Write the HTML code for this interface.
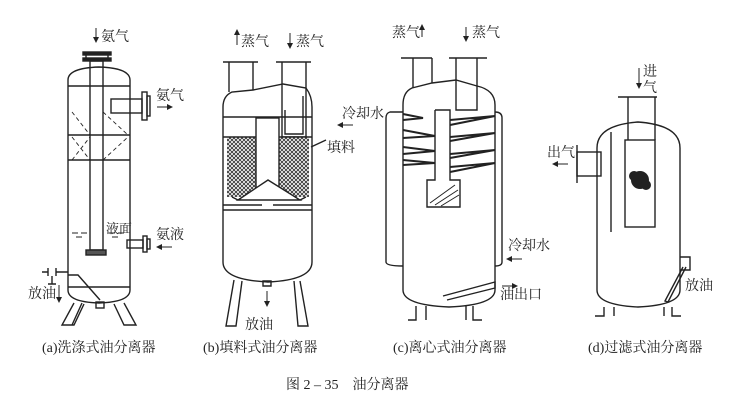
<!DOCTYPE html>
<html><head><meta charset="utf-8"><style>
html,body{margin:0;padding:0;background:#fff;}
svg{display:block}
text{font-family:"Liberation Serif","Noto Serif CJK SC",serif;fill:#222;}
</style></head><body>
<svg width="741" height="415" viewBox="0 0 741 415" xmlns="http://www.w3.org/2000/svg">
<defs>
<pattern id="hatch" width="4" height="4" patternUnits="userSpaceOnUse">
<rect width="4" height="4" fill="#fff"/>
<path d="M0 0L4 4M4 0L0 4" stroke="#333" stroke-width="0.9"/>
</pattern>
<marker id="ah" markerWidth="6" markerHeight="6" refX="5" refY="3" orient="auto"><path d="M0 0L6 3L0 6z" fill="#222"/></marker>
</defs>
<g fill="none" stroke="#222" stroke-width="1.4">
<!-- (a) -->
<path d="M68 290 L68 80 Q68 68 99 67 Q130 68 130 80 L130 290 Q130 302 99 303 Q68 302 68 290Z"/>
<rect x="83" y="52" width="28" height="3" fill="#222"/>
<rect x="83" y="58" width="28" height="3" fill="#222"/>
<path d="M86 55 L86 58 M108 55 L108 58"/>
<rect x="90" y="61" width="13" height="189"/>
<rect x="86" y="250" width="20" height="5" fill="#555"/>
<path d="M68 86 H130 M68 135 H130 M68 160 H130 M68 287 H130"/>
<path d="M72 112 L90 135 M72 160 L90 137 M103 112 L128 135 M103 160 L128 137 M72 137 L90 160" stroke-dasharray="4 3" stroke-width="0.9"/>
<rect x="111" y="99" width="31" height="14"/>
<rect x="142" y="92" width="5" height="28"/><rect x="147" y="96" width="3" height="20"/>
<path d="M72 233 h6 m3 0 h6 m22 0 h6 m3 0 h6 M76 237 h6 m30 0 h6" stroke-width="0.9"/>
<rect x="127" y="240" width="16" height="8"/>
<rect x="143" y="236" width="4" height="16"/><rect x="147" y="239" width="3" height="10"/>
<path d="M68 272 H56 M56 268 v8 M48 268 v8 M42 272 h6 M52 276 v8 M48 284 h8 M68 275 h10 L100 300"/>
<path d="M74 303 L62 325 H74 L84 304 M82 303 L72 325 M124 303 L136 325 H124 L114 304"/>
<rect x="96" y="302" width="8" height="6"/>
<path d="M59 285 V302" marker-end="url(#ah)" stroke-width="1"/>
<path d="M96 28 V42" marker-end="url(#ah)" stroke-width="1"/>
<path d="M157 107 H172" marker-end="url(#ah)" stroke-width="1"/>
<path d="M172 247 H157" marker-end="url(#ah)" stroke-width="1"/>
<!-- (b) -->
<path d="M223 107 Q223 96 232 92 L253 90 L283 84 L306 88 Q312 96 312 107 L312 262 Q312 280 268 282 Q223 280 223 262Z"/>
<path d="M223 62 H258 M276 62 H311"/>
<path d="M229 62 V92 M253 62 V90"/>
<path d="M282 62 V137 H306 V62 M285 110 V134 H303 V96"/>
<path d="M223 117 H312"/>
<rect x="227" y="137" width="29" height="60" fill="url(#hatch)" stroke="none"/>
<rect x="279" y="137" width="30" height="60" fill="url(#hatch)" stroke="none"/>
<path d="M223 137 H256 M279 137 H312"/>
<rect x="256" y="118" width="23" height="72" fill="#fff"/>
<path d="M238 200 L268 180 L300 200Z M238 200 L232 197 M300 200 L306 197" fill="#fff"/>
<path d="M223 205 H262 M273 205 H312 M223 210 H312"/>
<path d="M234 280 L226 326 H236 L242 281 M300 281 L308 326 H298 L294 281 M263 281 h8 v5 h-8z"/>
<path d="M311 147 L326 140"/>
<path d="M237 45 V30" marker-end="url(#ah)" stroke-width="1"/>
<path d="M290 33 V48" marker-end="url(#ah)" stroke-width="1"/>
<path d="M267 291 V306" marker-end="url(#ah)" stroke-width="1"/>
<!-- (c) -->
<path d="M403 105 Q403 92 412 88 L432 83 L456 80 L477 86 Q495 90 495 105 L495 290 Q495 305 449 307 Q403 305 403 290Z"/>
<path d="M401 58 H432 M449 58 H487"/>
<path d="M413 58 V88 M432 58 V83 M456 58 V110 H477 V58"/>
<path d="M403 112 H390 Q386 113 386 118 V262 Q386 266 403 266 M495 112 Q502 112 502 118 V262 Q502 266 495 266"/>
<path d="M403 114 L423 118 L403 120 M450 120 L495 116 L450 125 M403 130 L435 136 L403 138 M450 137 L495 133 L450 141 M403 147 L435 151 L403 154 M450 154 L495 150 L450 158 M403 160 L435 163 L403 165 M450 167 L495 163 L450 172" stroke-width="2"/>
<path d="M435 110 V180 H427 V207 H460 V180 H450 V110 H435"/>
<path d="M430 203 L455 185 M435 205 L458 190 M441 206 L459 195" stroke-width="1"/>
<path d="M443 296 L495 282 L495 288 L447 300"/>
<path d="M416 306 V320 H408 M426 306 V320 M473 306 V320 H482 M466 306 V320"/>
<path d="M422 37 V25" marker-end="url(#ah)" stroke-width="1"/>
<path d="M466 27 V41" marker-end="url(#ah)" stroke-width="1"/>
<path d="M353 125 H338" marker-end="url(#ah)" stroke-width="1"/>
<path d="M522 259 H507" marker-end="url(#ah)" stroke-width="1"/>
<path d="M502 286 H517" marker-end="url(#ah)" stroke-width="1"/>
<!-- (d) -->
<path d="M597 148 Q597 125 638 122 Q680 125 680 148 L680 290 Q680 305 638 307 Q597 305 597 290Z"/>
<path d="M618 97 H657 M628 97 V140 M655 97 V140"/>
<rect x="625" y="140" width="30" height="87" fill="#fff"/>
<path d="M611 132 V232"/>
<rect x="577" y="152" width="24" height="24"/><path d="M577 145 V183"/>
<path d="M680 257 h10 v13 h-10 M683 267 L665 301 L668 302 L686 267"/>
<path d="M604 307 V316 H595 M614 307 V316 M664 307 V316 M672 307 V316 H681"/>
<path d="M639 68 V88" marker-end="url(#ah)" stroke-width="1"/>
<path d="M568 164 H553" marker-end="url(#ah)" stroke-width="1"/>
</g>
<circle cx="640" cy="180" r="9" fill="#222"/><circle cx="634" cy="176" r="5" fill="#222"/><circle cx="646" cy="185" r="5" fill="#222"/>
<g font-size="14">
<text x="101" y="41">氨气</text>
<text x="156" y="100">氨气</text>
<text x="106" y="233" font-size="13">液面</text>
<text x="156" y="239">氨液</text>
<text x="28" y="298">放油</text>
<text x="241" y="46">蒸气</text>
<text x="296" y="46">蒸气</text>
<text x="327" y="152">填料</text>
<text x="342" y="118">冷却水</text>
<text x="245" y="329">放油</text>
<text x="392" y="37">蒸气</text>
<text x="472" y="37">蒸气</text>
<text x="508" y="250">冷却水</text>
<text x="500" y="299">油出口</text>
<text x="643" y="76">进</text>
<text x="643" y="92">气</text>
<text x="547" y="157">出气</text>
<text x="685" y="290">放油</text>
</g>
<g font-size="14">
<text x="42" y="352">(a)洗涤式油分离器</text>
<text x="203" y="352">(b)填料式油分离器</text>
<text x="393" y="352">(c)离心式油分离器</text>
<text x="588" y="352">(d)过滤式油分离器</text>
<text x="286" y="389">图 2 – 35　油分离器</text>
</g>
</svg>
</body></html>
